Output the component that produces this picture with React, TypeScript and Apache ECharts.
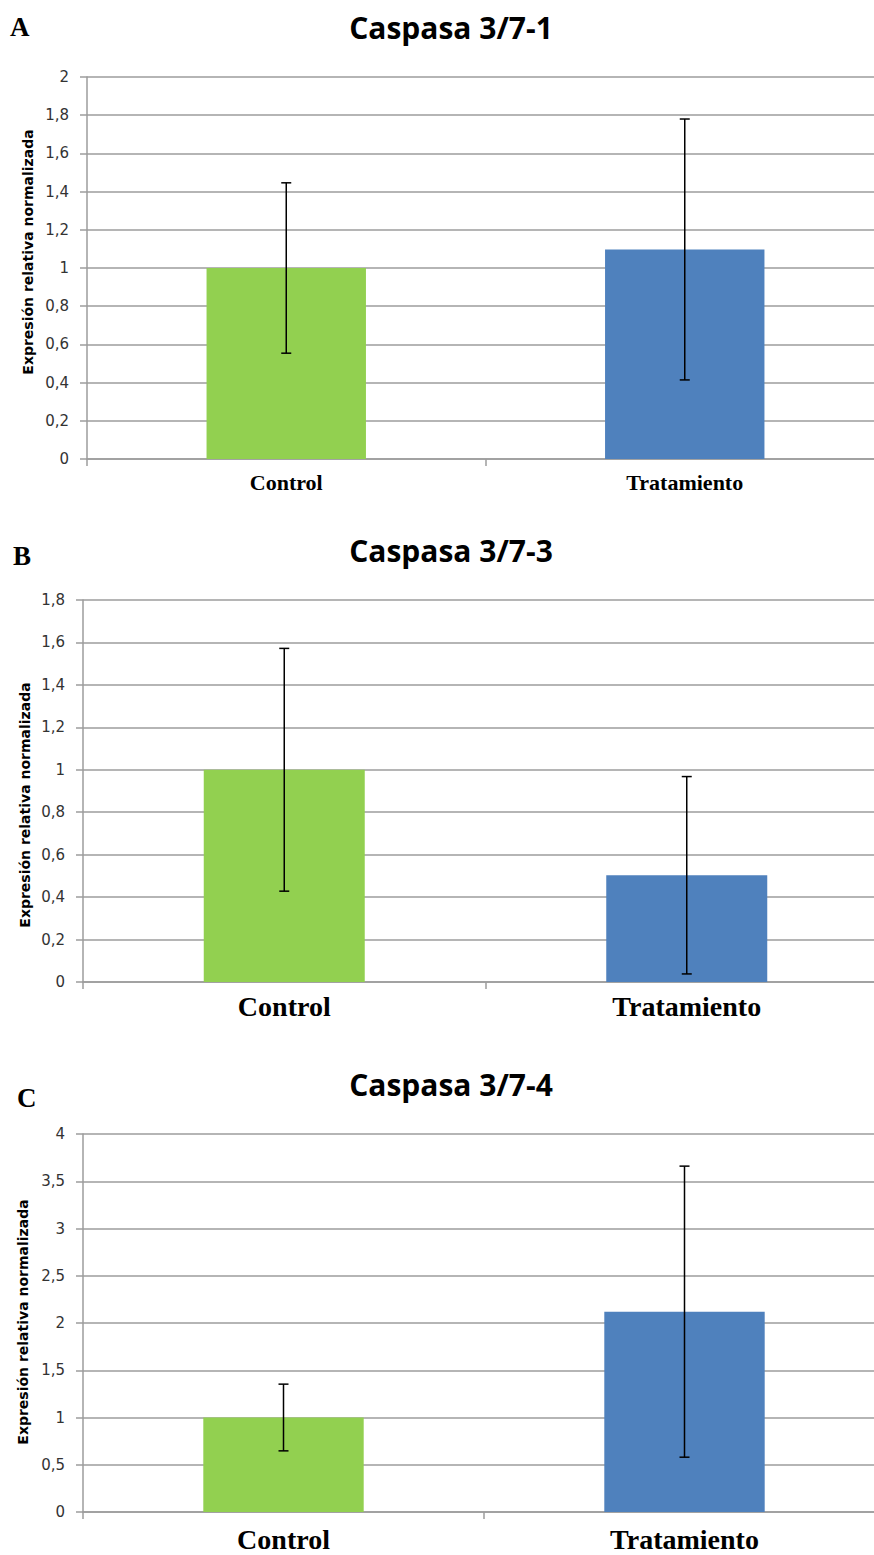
import React, { useEffect, useRef } from "react";
import * as echarts from "echarts";

const categories = ["Control", "Tratamiento"];
const titles = ["Caspasa 3/7-1", "Caspasa 3/7-3", "Caspasa 3/7-4"];
const panelLetters = ["A", "B", "C"];
const yAxisName = "Expresión relativa normalizada";

const meansA = [1.0, 1.097];
const errA = [0.446, 0.683];
const meansB = [1.0, 0.503];
const errB = [0.572, 0.465];
const meansC = [1.0, 2.12];
const errC = [0.353, 1.54];

const yMax = [2, 1.8, 4];
const yInterval = [0.2, 0.2, 0.5];

const barColors = ["#92D050", "#4F81BD"];

export default function App() {
  const ref = useRef<HTMLDivElement>(null);
  useEffect(() => {
    if (!ref.current) return;
    const chart = echarts.init(ref.current, undefined, { renderer: "svg" });
    const grids = [
      { left: 87, top: 77, width: 797, height: 382 },
      { left: 83, top: 600, width: 805, height: 382 },
      { left: 83, top: 1134, width: 802, height: 378 },
    ];
    const means = [meansA, meansB, meansC];
    const errs = [errA, errB, errC];
    const catFont = [22, 28, 28];
    const catMargin = [12, 10, 13];
    const gridLine = "#9c9c9c";
    const fmt = (v: number) => String(+v.toFixed(1)).replace(".", ",");

    const xAxis = grids.map((g, i) => ({
      type: "category",
      gridIndex: i,
      data: categories,
      axisLine: { lineStyle: { color: gridLine, width: 1.5 } },
      axisTick: { show: true, alignWithLabel: false, length: 7, lineStyle: { color: gridLine, width: 1.5 } },
      axisLabel: {
        margin: catMargin[i],
        color: "#000",
        fontFamily: "Liberation Serif",
        fontWeight: "bold",
        fontSize: catFont[i],
      },
    }));
    const yAxis = grids.map((g, i) => ({
      type: "value",
      gridIndex: i,
      min: 0,
      max: yMax[i],
      interval: yInterval[i],
      axisLine: { show: true, lineStyle: { color: gridLine, width: 1.5 } },
      axisTick: { show: true, length: 7, lineStyle: { color: gridLine, width: 1.5 } },
      splitLine: { show: true, lineStyle: { color: gridLine, width: 1.5 } },
      axisLabel: {
        margin: 18,
        color: "#333",
        fontFamily: "DejaVu Sans",
        fontSize: 15,
        formatter: fmt,
      },
    }));

    const series: any[] = [];
    grids.forEach((g, i) => {
      series.push({
        type: "bar",
        xAxisIndex: i,
        yAxisIndex: i,
        barWidth: "40%",
        data: means[i].map((v, k) => ({ value: v, itemStyle: { color: barColors[k] } })),
      });
      series.push({
        type: "custom",
        xAxisIndex: i,
        yAxisIndex: i,
        data: means[i].map((v, k) => [k, v - errs[i][k], v + errs[i][k]]),
        encode: { x: 0, y: [1, 2] },
        renderItem: (params: any, api: any) => {
          const x = api.value(0);
          const lo = api.coord([x, api.value(1)]);
          const hi = api.coord([x, api.value(2)]);
          const cw = 5;
          const style = { stroke: "#000", lineWidth: 1.5 };
          return {
            type: "group",
            children: [
              { type: "line", shape: { x1: lo[0], y1: lo[1], x2: hi[0], y2: hi[1] }, style },
              { type: "line", shape: { x1: hi[0] - cw, y1: hi[1], x2: hi[0] + cw, y2: hi[1] }, style },
              { type: "line", shape: { x1: lo[0] - cw, y1: lo[1], x2: lo[0] + cw, y2: lo[1] }, style },
            ],
          };
        },
        z: 5,
      });
    });

    const title = grids.map((g, i) => ({
      text: titles[i],
      left: 446,
      top: g.top - 70,
      textAlign: "center",
      textStyle: { fontFamily: "Open Sans", fontWeight: "bold", fontSize: 30, color: "#000" },
    }));

    const letterPos = [
      { x: 10, y: 27 },
      { x: 13, y: 556 },
      { x: 17, y: 1098 },
    ];
    const namePos = [
      { x: 28, y: 252 },
      { x: 25, y: 805 },
      { x: 23, y: 1322 },
    ];
    const graphic: any[] = [];
    letterPos.forEach((p, i) => {
      graphic.push({
        type: "text",
        x: p.x,
        y: p.y,
        style: {
          text: panelLetters[i],
          font: "bold 27px 'Liberation Serif'",
          fill: "#000",
          textAlign: "left",
          textVerticalAlign: "middle",
        },
      });
    });
    namePos.forEach((p, i) => {
      graphic.push({
        type: "text",
        x: p.x,
        y: p.y,
        rotation: Math.PI / 2,
        style: {
          text: yAxisName,
          font: "bold 14px 'DejaVu Sans'",
          fill: "#000",
          textAlign: "center",
          textVerticalAlign: "middle",
        },
      });
    });

    chart.setOption({
      animation: false,
      backgroundColor: "#fff",
      title,
      grid: grids,
      xAxis,
      yAxis,
      series,
      graphic,
    });
    return () => chart.dispose();
  }, []);
  return (
    <div
      style={{ position: "absolute", left: 0, top: 0, width: 874, height: 1555, overflow: "hidden", background: "#fff" }}
    >
      <div ref={ref} style={{ width: 910, height: 1555 }} />
    </div>
  );
}
